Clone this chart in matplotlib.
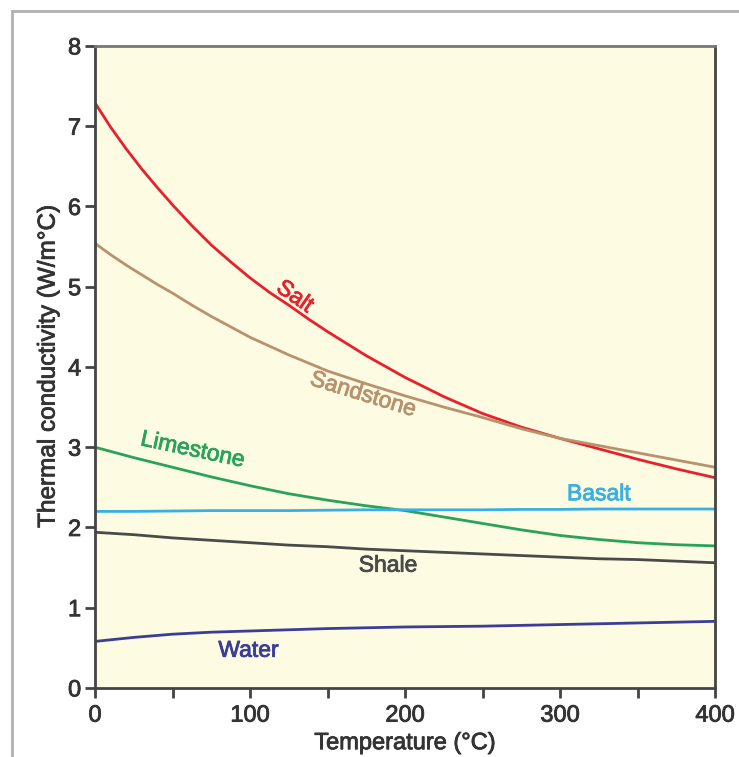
import matplotlib
matplotlib.use("Agg")
import matplotlib.pyplot as plt
import matplotlib.patheffects as pe
from matplotlib.patches import Rectangle

temperature = [0, 25, 50, 75, 100, 125, 150, 175, 200, 225, 250, 275, 300, 325, 350, 375, 400]
# finer sampling for the two steep curves
temperature_fine = [0, 10, 20, 30, 40, 50, 62.5, 75, 87.5, 100, 112.5, 125, 137.5, 150, 162.5, 175,
                    200, 225, 250, 275, 300, 325, 350, 375, 400]

# Thermal conductivity (W/m°C)
salt = [7.29, 6.99, 6.72, 6.47, 6.24, 6.02, 5.76, 5.52, 5.31, 5.11, 4.93, 4.77, 4.60, 4.44, 4.29, 4.14,
        3.87, 3.63, 3.42, 3.25, 3.11, 2.98, 2.85, 2.73, 2.62]
sandstone = [5.54, 5.40, 5.27, 5.15, 5.03, 4.92, 4.77, 4.63, 4.50, 4.37, 4.26, 4.15, 4.05, 3.95, 3.87, 3.79,
             3.64, 3.50, 3.37, 3.23, 3.11, 3.02, 2.93, 2.84, 2.75]
limestone = [3.00, 2.87, 2.75, 2.63, 2.52, 2.42, 2.34, 2.27, 2.21, 2.13, 2.05, 1.97, 1.90, 1.85, 1.81, 1.785, 1.77]
basalt = [2.20, 2.20, 2.205, 2.21, 2.21, 2.21, 2.215, 2.22, 2.22, 2.22, 2.22, 2.225, 2.225, 2.23, 2.23, 2.23, 2.23]
shale = [1.94, 1.91, 1.87, 1.84, 1.81, 1.78, 1.76, 1.73, 1.71, 1.69, 1.67, 1.65, 1.63, 1.61, 1.60, 1.58, 1.56]
water = [0.58, 0.63, 0.67, 0.695, 0.71, 0.725, 0.74, 0.75, 0.76, 0.765, 0.77, 0.78, 0.79, 0.80, 0.81, 0.82, 0.83]

series = [
    ("Salt", temperature_fine, salt, "#e8202e"),
    ("Sandstone", temperature_fine, sandstone, "#b8926e"),
    ("Limestone", temperature, limestone, "#2aa35a"),
    ("Shale", temperature, shale, "#4a4a4a"),
    ("Water", temperature, water, "#3b3d96"),
    ("Basalt", temperature, basalt, "#38b0e4"),
]

# label positions (T, k, rotation)
label_pos = {
    "Salt": (129, 4.88, -35),
    "Sandstone": (173, 3.66, -17),
    "Limestone": (63, 2.97, -12),
    "Basalt": (325, 2.42, 0),
    "Shale": (189, 1.53, 0),
    "Water": (99, 0.47, 0),
}

plt.rcParams["font.family"] = ["Liberation Sans", "DejaVu Sans"]

fig = plt.figure(figsize=(7.39, 7.57), dpi=100)
ax = fig.add_axes([0.1286, 0.0912, 0.8390, 0.8481])
ax.set_facecolor("#fdfbe1")

for name, temps, values, color in series:
    ax.plot(temps, values, color=color, linewidth=2.0, solid_capstyle="butt", solid_joinstyle="round")
    tx, ty, rot = label_pos[name]
    ax.text(tx, ty, name, color=color, fontsize=16.5, rotation=rot,
            ha="center", va="center", rotation_mode="anchor",
            path_effects=[pe.withStroke(linewidth=0.6, foreground=color)])

ax.set_xlim(0, 400)
ax.set_ylim(0, 8)
ax.set_xticks([0, 100, 200, 300, 400])
ax.set_xticks([50, 150, 250, 350], minor=True)
ax.set_yticks(range(0, 9))

for side in ["left", "bottom", "top", "right"]:
    ax.spines[side].set_color("#444444")
    ax.spines[side].set_linewidth(2.0)
ax.spines["top"].set_color("#777777")

ax.tick_params(axis="both", which="both", direction="out", length=7, width=2,
               color="#444444", labelcolor="#333333", labelsize=17)
ax.tick_params(axis="x", pad=5)
ax.tick_params(axis="y", pad=3)

bold_fx = [pe.withStroke(linewidth=0.6, foreground="#333333")]
for lbl in ax.get_xticklabels() + ax.get_yticklabels():
    lbl.set_path_effects(bold_fx)

ax.set_xlabel("Temperature (°C)", fontsize=17, color="#333333", labelpad=4, path_effects=bold_fx)
ax.set_ylabel("Thermal conductivity (W/m°C)", fontsize=17.5, color="#333333", labelpad=6,
              path_effects=bold_fx)

# grey frame around the whole picture
fig.add_artist(Rectangle((12 / 739, -0.1), 1.2, 1.1 - 11 / 757, transform=fig.transFigure,
                         fill=False, edgecolor="#b0b0b0", linewidth=2))

fig.savefig("out.png", dpi=100, facecolor="white")
